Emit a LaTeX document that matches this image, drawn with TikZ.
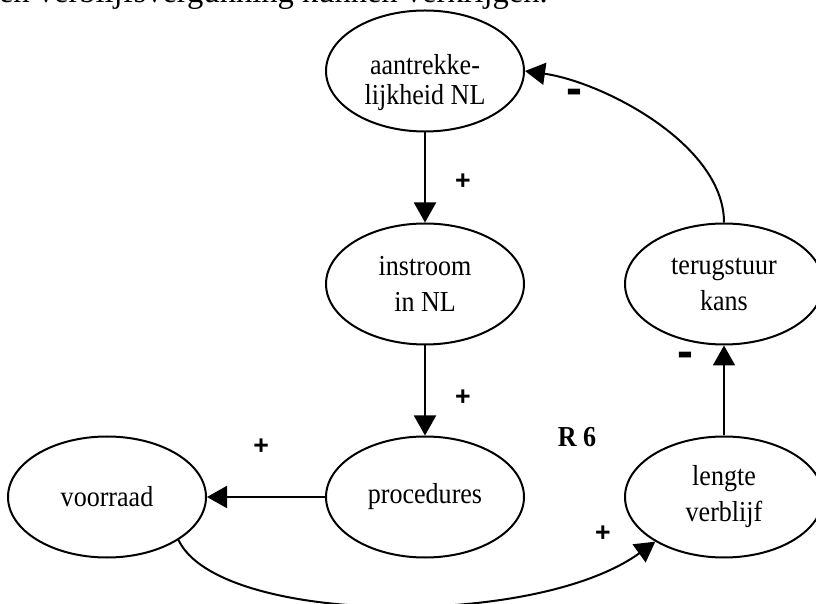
\documentclass[tikz,border=0pt]{standalone}
\usepackage{fontspec}
\setmainfont{Liberation Serif}
\newfontfamily\nodefont{Liberation Serif}[FakeStretch=0.9]
\newfontfamily\signfont{Liberation Sans}
\usepackage{tikz}
\usetikzlibrary{arrows.meta, shapes.geometric, positioning}

\tikzset{
  factor/.style={ellipse, draw, minimum width=148.5pt, minimum height=90.75pt,
    inner sep=0pt, align=center, font=\nodefont\fontsize{21.7}{27}\selectfont},
  sign/.style={font=\signfont\bfseries\fontsize{20}{20}\selectfont, inner sep=0pt},
  minus/.style={font=\signfont\bfseries\fontsize{36}{36}\selectfont, inner sep=0pt, yshift=-3pt}
}

\begin{document}
\begin{tikzpicture}[x=0.75pt, y=0.75pt, line width=1.5pt, node distance=159.75pt,
    >={Triangle[length=15pt,width=16.5pt]}]
            \useasboundingbox (0,0) rectangle (816,603);

            \node[anchor=base west, inner sep=0pt, font=\fontsize{24.4}{29}\selectfont] (intro) at (-2,600) {en verblijfsvergunning kunnen verkrijgen.};

            % strut pushes the two lines a bit lower, as in the original
            \node[factor, font=\nodefont\fontsize{21.7}{22.5}\selectfont] (aantrek) at (425,532) {\rule{0pt}{33pt}aantrekke-\\lijkheid NL};
            \node[factor, below of=aantrek] (instroom) {instroom\\in NL};
            \node[factor, below of=instroom] (procedures) {procedures};
            \node[factor, left of=procedures, xshift=-78.75pt] (voorraad) {voorraad};
            \node[factor, right of=procedures, xshift=64.5pt] (lengte) {lengte\\verblijf};
            \node[factor, above of=lengte] (terug) {terugstuur\\kans};
            \node[font=\nodefont\bfseries\fontsize{21.7}{21.7}\selectfont] (loop) at (577,166) {R 6};

            \draw (aantrek) edge[->] node[sign, pos=0.55, xshift=28.5pt] (plusA) {+} (instroom)
            (instroom) edge[->] node[sign, pos=0.58, xshift=28.5pt] (plusB) {+} (procedures)
            (procedures) edge[->] node[sign, pos=0.54, yshift=38pt] (plusC) {+} (voorraad)
            (voorraad.-31) edge[->, out=-65, in=216, out looseness=0.5, in looseness=0.8] (lengte.213)
            (lengte) edge[->] node[minus, pos=0.89, xshift=-29pt] (minA) {-} (terug)
            (terug.north) edge[->, out=90, in=-8, looseness=0.8] (aantrek.east);

            \node[sign] (plusD) at (603,69) {+};
            \node[minus] (minB) at (574,510) {-};

        \end{tikzpicture}
\end{document}
